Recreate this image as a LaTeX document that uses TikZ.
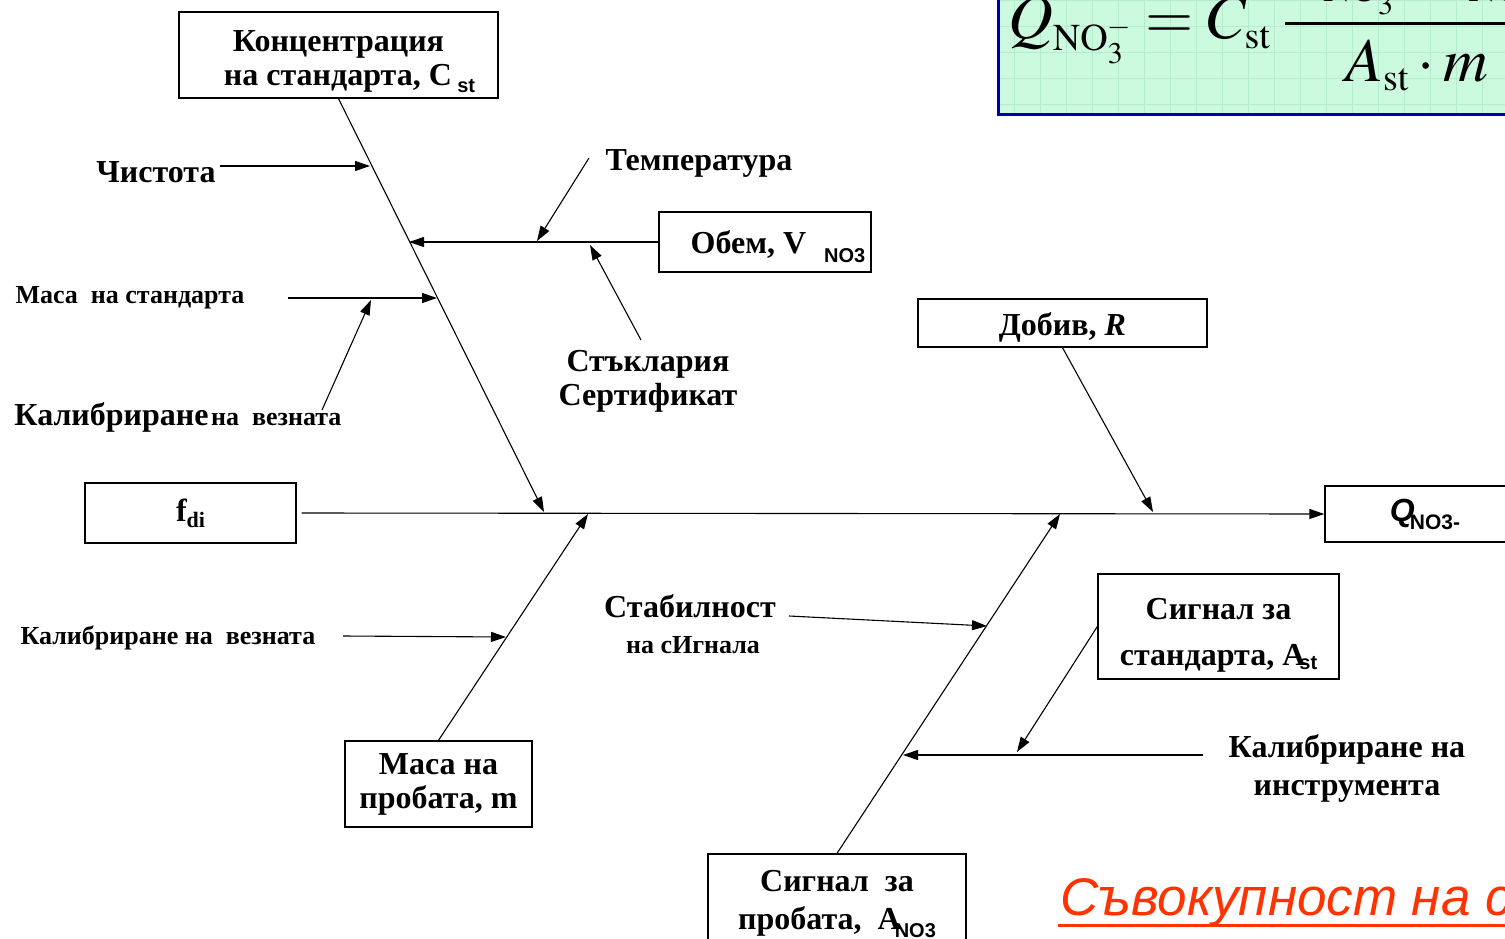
\documentclass[tikz,border=0pt]{standalone}
\usepackage{mathptmx}
\usepackage[no-math]{fontspec}
\setmainfont{Liberation Serif}
\newfontfamily\lsans{Liberation Sans}
\usetikzlibrary{calc, positioning, arrows.meta}

\definecolor{mint}{RGB}{204,250,222}
\definecolor{mintgrid}{RGB}{182,236,206}
\definecolor{frmblue}{RGB}{0,0,170}
\definecolor{redtxt}{RGB}{255,51,0}

\DeclareMathSizes{62}{62}{38}{30}
\newcommand{\bigtxt}{\fontsize{32}{34}\selectfont\bfseries}
\newcommand{\smalltxt}{\fontsize{26}{28}\selectfont\bfseries}
\newcommand{\subsf}[2][-7pt]{\raisebox{#1}{\lsans\bfseries\fontsize{20}{20}\selectfont #2}}
\newcommand{\pushdown}[1]{\rule{0pt}{#1}}

\begin{document}
\begin{tikzpicture}[
    x=1pt, y=-1pt,
    factor/.style={
        rectangle,
        draw,
        line width=1.3pt,
        inner sep=0pt,
        align=center,
        font=\bigtxt
    },
    cause/.style={inner sep=0pt, align=center, font=\bigtxt},
    minor/.style={inner sep=0pt, align=center, font=\smalltxt},
    bone/.style={-{Triangle[length=15pt, width=10pt]}, line width=1.1pt}
]
\useasboundingbox (0,0) rectangle (1505,939);
\clip (0,0) rectangle (1505,939);

% Formula panel (top right, cut by the page)
\fill[mint] (998,-10) rectangle (1515,115);
\draw[mintgrid, line width=0.6pt, step=26pt] (998,-10) grid (1515,115);
\draw[frmblue, line width=3pt] (998,-10) rectangle (1515,115);
\node[anchor=base west, inner sep=0pt, font=\fontsize{62}{62}\selectfont] (formula) at (1008,39)
{$\displaystyle Q_{\mathrm{NO}_3^-}=C_{\mathrm{st}}\;\frac{A_{\mathrm{NO}_3^-}\cdot V_{\mathrm{NO}_3^-}}{A_{\mathrm{st}}\cdot m}$};

% Boxes
\node[factor, minimum width=319pt, minimum height=86pt] (conc) at (338.5,55)
{\pushdown{34pt}Концентрация\\ \hspace*{22pt}на стандарта, C\,\subsf{st}};
\node[factor, minimum width=212pt, minimum height=60pt] (obem) at (765,242)
{\pushdown{32pt}\hspace*{26pt}Обем, V\hspace{18pt}\subsf[-9pt]{NO3}};
\node[factor, minimum width=289pt, minimum height=48pt] (dobiv) at (1062.5,323)
{\pushdown{32pt}Добив, \textit{R}};
\node[factor, minimum width=211pt, minimum height=60pt] (fdi) at (190.5,513)
{f\raisebox{-6pt}{\fontsize{22}{22}\selectfont di}};
\node[factor, minimum width=200pt, minimum height=56pt] (q) at (1425,514)
{\lsans\itshape Q\hspace{-5pt}\raisebox{-8pt}{\upshape\fontsize{21}{21}\selectfont NO3-}};
\node[factor, minimum width=241pt, minimum height=105pt] (sigstd) at (1218.5,626.5)
{\pushdown{38pt}Сигнал за\\[12pt] стандарта, A\hspace{-6pt}\subsf[-4pt]{st}};
\node[factor, minimum width=187pt, minimum height=86pt] (masa) at (438.5,784)
{Маса на\\ пробата, m};
\node[factor, minimum width=258pt, minimum height=100pt] (sigproba) at (837,904)
{Сигнал\ \ за\\[4pt] пробата,\ \ A\hspace{-6pt}\subsf[-8pt]{NO3}};

% Causes
\node[cause] (chist) at (156,172) {Чистота};
\node[cause] (temp) at (699,163) {Температура};
\node[cause] (glass) at (648,381) {Стъклария\\ Сертификат};
\node[minor] (mstd) at (130,298) {Маса\ \ на стандарта};
\node[inner sep=0pt] (calw1) at (178,417) {{\bigtxt Калибриране} {\smalltxt на\ \ везната}};
\node[minor] (calw2) at (168,638) {Калибриране на\ \ везната};
\node[cause] (stab) at (690,606) {Стабилност};
\node[minor] (stab2) at (693,645) {на сИгнала};
\node[cause] (calins) at (1347,768) {Калибриране на\\[4pt] инструмента};

% Red caption
\node[anchor=base west, inner sep=0pt, font=\lsans\itshape\fontsize{53}{53}\selectfont, text=redtxt] (total) at (1060,915)
{Съвокупност на с};
\draw[redtxt, line width=3pt] ($(total.base west)+(-2,10)$) -- ($(total.base east)+(40,10)$);

% Joints on the spine and on the bones
\coordinate (jConc) at (544,512);
\coordinate (jMasa) at (588,514);
\coordinate (jSig) at (1060,514);
\coordinate (jDob) at (1153,512);
\coordinate (aChist) at (370,166);
\coordinate (aObem) at (409,242);
\coordinate (aTemp) at (537,241);
\coordinate (aGlass) at (590,245);
\coordinate (aMstd) at (437,298);
\coordinate (aCalw1) at (371,300);
\coordinate (aCalw2) at (506,637);
\coordinate (aStab) at (987,626);
\coordinate (aCalins) at (903,755);
\coordinate (aSigstd) at (1017,752);

% Spine and main bones
\draw[bone, shorten <=5pt] (fdi.east) -- (q.west);
\draw[bone] (conc.south) -- (jConc);
\draw[bone] (masa.north) -- (jMasa);
\draw[bone] (sigproba.north) -- (jSig);
\draw[bone] (dobiv.south) -- (jDob);

% Minor causes
\draw[bone] ($(chist)+(64,-6)$) -- (aChist);
\draw[bone] (obem.west) -- (aObem);
\draw[bone] ($(temp)+(-110,-5)$) -- (aTemp);
\draw[bone] ($(glass)+(-7,-41)$) -- (aGlass);
\draw[bone] ($(mstd)+(158,0)$) -- (aMstd);
\draw[bone] ($(calw1)+(144,-7)$) -- (aCalw1);
\draw[bone] ($(calw2)+(175,-2)$) -- (aCalw2);
\draw[bone] ($(stab)+(99,10)$) -- (aStab);
\draw[bone] ($(calins)+(-144,-13)$) -- (aCalins);
\draw[bone] (sigstd.west) -- (aSigstd);
\end{tikzpicture}
\end{document}
